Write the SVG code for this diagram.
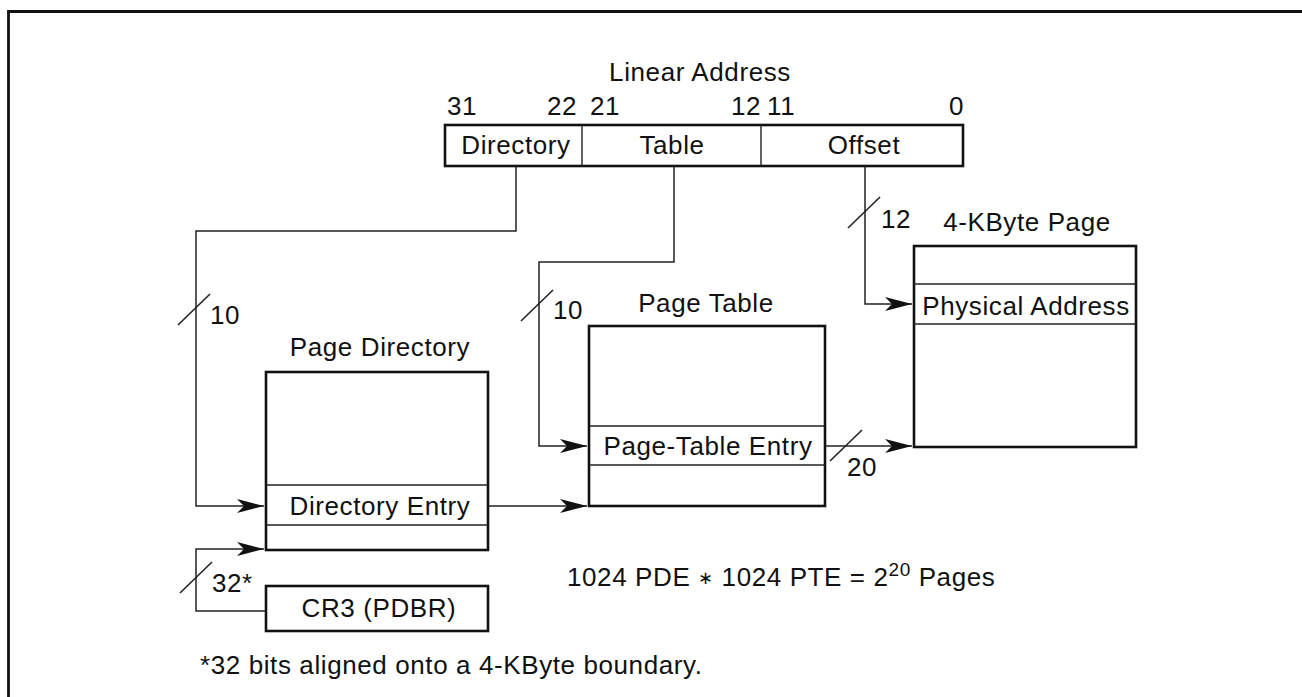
<svg xmlns="http://www.w3.org/2000/svg" width="1302" height="697" viewBox="0 0 1302 697">
<style>
text{font-family:"Liberation Sans",Arial,sans-serif;font-size:26px;fill:#111;letter-spacing:0.6px}
.box{fill:#fff;stroke:#111;stroke-width:2.6}
.row{stroke:#222;stroke-width:1.4;fill:none}
.wire{stroke:#222;stroke-width:1.5;fill:none}
.slash{stroke:#222;stroke-width:1.6}
.c{text-anchor:middle}
.e{text-anchor:end}
</style>
<defs>
<marker id="ah" markerUnits="userSpaceOnUse" markerWidth="30" markerHeight="16" refX="27" refY="7" orient="auto">
<path d="M0,0 L27,7 L0,14 L7,7 z" fill="#111"/>
</marker>
</defs>
<rect width="1302" height="697" fill="#fff"/>
<g id="frame"><path d="M8.5,697 V11.5 H1302" fill="none" stroke="#111" stroke-width="2.8"/></g>

<g id="linear-address">
<text class="c" x="700" y="81">Linear Address</text>
<text x="447" y="115">31</text>
<text class="e" x="577" y="115">22</text>
<text x="590" y="115">21</text>
<text class="e" x="761" y="115">12</text>
<text x="767" y="115">11</text>
<text class="e" x="964" y="115">0</text>
<rect class="box" x="445" y="125" width="518" height="41"/>
<line class="row" x1="582" y1="125" x2="582" y2="166"/>
<line class="row" x1="761" y1="125" x2="761" y2="166"/>
<text class="c" x="516" y="154">Directory</text>
<text class="c" x="672" y="154">Table</text>
<text class="c" x="864" y="154">Offset</text>
</g>

<g id="page-directory">
<text class="c" x="380" y="356">Page Directory</text>
<rect class="box" x="266" y="372" width="222" height="178"/>
<line class="row" x1="266" y1="485" x2="488" y2="485"/>
<line class="row" x1="266" y1="525" x2="488" y2="525"/>
<text class="c" x="380" y="515">Directory Entry</text>
</g>

<g id="page-table">
<text class="c" x="706" y="312">Page Table</text>
<rect class="box" x="589" y="326" width="236" height="180"/>
<line class="row" x1="589" y1="426" x2="825" y2="426"/>
<line class="row" x1="589" y1="465" x2="825" y2="465"/>
<text class="c" x="708" y="455">Page-Table Entry</text>
</g>

<g id="page">
<text class="c" x="1027" y="231">4-KByte Page</text>
<rect class="box" x="914" y="246" width="222" height="201"/>
<line class="row" x1="914" y1="284" x2="1136" y2="284"/>
<line class="row" x1="914" y1="324" x2="1136" y2="324"/>
<text class="c" x="1026" y="315">Physical Address</text>
</g>

<g id="cr3">
<rect class="box" x="266" y="586" width="222" height="45"/>
<text class="c" x="379" y="617">CR3 (PDBR)</text>
</g>

<g id="connectors">
<path class="wire" d="M516,166 V231 H196 V506 H264" marker-end="url(#ah)"/>
<path class="wire" d="M674,166 V262 H539 V446 H587" marker-end="url(#ah)"/>
<path class="wire" d="M865,166 V304 H912" marker-end="url(#ah)"/>
<path class="wire" d="M488,506 H587" marker-end="url(#ah)"/>
<path class="wire" d="M825,446 H912" marker-end="url(#ah)"/>
<path class="wire" d="M266,611 H196 V549 H264" marker-end="url(#ah)"/>
<line class="slash" x1="178" y1="325" x2="210" y2="294"/>
<line class="slash" x1="521" y1="321" x2="553" y2="290"/>
<line class="slash" x1="848" y1="228" x2="880" y2="197"/>
<line class="slash" x1="830" y1="461" x2="862" y2="430"/>
<line class="slash" x1="180" y1="593" x2="212" y2="562"/>
<text x="210" y="324">10</text>
<text x="553" y="319">10</text>
<text x="881" y="228">12</text>
<text x="847" y="476">20</text>
<text x="212" y="592">32*</text>
</g>

<g id="notes">
<text x="567" y="586">1024 PDE <tspan font-size="18" dy="-2">∗</tspan><tspan dy="2"> 1024 PTE = 2</tspan><tspan dy="-10" font-size="19">20</tspan><tspan dy="10"> Pages</tspan></text>
<text x="200" y="674">*32 bits aligned onto a 4-KByte boundary.</text>
</g>
</svg>
